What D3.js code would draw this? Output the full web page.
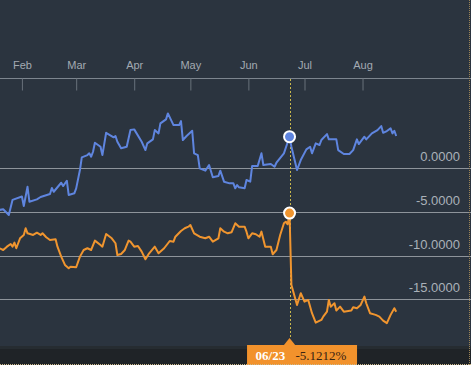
<!DOCTYPE html>
<html>
<head>
<meta charset="utf-8">
<script src="https://cdn.jsdelivr.net/npm/d3@7"></script>
<style>
html,body{margin:0;padding:0;background:#2b343f;overflow:hidden;}
svg{display:block;}
</style>
</head>
<body>
<svg id="chart" width="471" height="365"></svg>
<script>
// ---- data (percent change, 2016) ----
const blueDates = ["01-20","01-22","01-25","01-27","02-01","02-02","02-04","02-05","02-09","02-11","02-16","02-17","02-18","02-22","02-23","02-25","02-26","02-29","03-01","03-03","03-04","03-07","03-08","03-09","03-10","03-11","03-14","03-15","03-17","03-21","03-22","03-23","03-25","03-28","03-30","04-01","04-05","04-07","04-08","04-11","04-12","04-14","04-15","04-18","04-19","04-22","04-25","04-26","04-27","04-29","05-02","05-03","05-05","05-06","05-09","05-11","05-13","05-16","05-17","05-19","05-22","05-24","05-25","05-26","05-27","05-30","05-31","06-02","06-03","06-06","06-08","06-09","06-13","06-15","06-16","06-20","06-23","06-24","06-27","06-29","07-02","07-04","07-05","07-07","07-09","07-10","07-13","07-14","07-18","07-19","07-22","07-25","07-27","07-29","07-30","08-02","08-03","08-06","08-09","08-11","08-12","08-14","08-16","08-17","08-18","08-19"];
const blueValues = [-4.77,-4.69,-5.34,-3.61,-3.23,-4.31,-2.11,-3.82,-3.55,-3.28,-2.94,-2.25,-2.68,-1.65,-2.03,-1.42,-3.05,-2.86,-2.29,-0.19,1.26,1.52,1.72,1.33,1.90,2.93,2.47,1.52,4.07,3.55,3.70,3.04,2.29,2.47,4.38,4.46,3.04,2.09,2.86,3.32,4.38,4.00,5.15,5.61,6.29,4.95,4.95,5.41,3.24,3.70,4.30,1.72,1.52,0.00,-0.27,0.38,-1.03,-0.88,-0.27,-1.53,-1.72,-1.72,-2.29,-1.91,-2.17,-2.29,-1.34,-1.53,0.26,0.26,1.72,0.38,0.49,0.18,0.64,1.72,3.62,2.47,-0.19,0.95,2.17,2.47,1.72,2.86,2.67,3.24,3.92,3.32,3.32,2.09,1.64,1.64,2.09,3.32,2.78,3.62,3.32,4.00,4.38,4.84,4.07,4.27,4.58,4.00,4.30,3.70];

const orangeDates = ["01-20","01-22","01-24","01-26","01-27","01-28","01-29","01-30","01-31","02-02","02-03","02-04","02-07","02-09","02-11","02-12","02-14","02-16","02-19","02-20","02-22","02-24","02-26","02-27","03-01","03-03","03-05","03-07","03-09","03-11","03-14","03-15","03-17","03-20","03-22","03-23","03-25","03-27","03-29","03-30","04-01","04-03","04-05","04-07","04-09","04-12","04-14","04-17","04-20","04-22","04-23","04-26","04-28","04-30","05-01","05-03","05-06","05-09","05-11","05-13","05-16","05-17","05-19","05-21","05-23","05-25","05-27","05-30","05-31","06-01","06-03","06-05","06-07","06-08","06-10","06-13","06-14","06-16","06-18","06-20","06-21","06-22","06-23","06-24","06-27","06-29","07-01","07-03","07-05","07-07","07-10","07-11","07-13","07-14","07-15","07-17","07-18","07-20","07-22","07-26","07-27","07-29","07-31","08-02","08-03","08-05","08-08","08-10","08-12","08-14","08-16","08-18","08-19"];
const orangeValues = [-9.15,-9.35,-8.97,-8.66,-8.97,-8.51,-9.15,-8.58,-8.01,-7.63,-6.86,-7.44,-7.63,-7.37,-7.63,-7.44,-7.89,-8.20,-8.12,-8.97,-10.11,-11.06,-11.44,-11.26,-11.33,-10.11,-9.35,-9.15,-9.35,-8.28,-8.78,-8.97,-7.52,-8.01,-8.58,-9.92,-9.81,-9.35,-8.28,-8.40,-8.97,-8.89,-9.54,-10.41,-9.73,-8.97,-9.73,-9.15,-8.32,-8.40,-7.83,-7.17,-6.86,-6.68,-6.49,-7.44,-7.83,-8.01,-7.83,-8.40,-8.01,-6.86,-7.25,-7.44,-7.32,-6.29,-6.68,-6.68,-7.25,-8.01,-7.44,-7.55,-7.83,-7.25,-8.97,-8.97,-9.84,-9.35,-7.63,-6.29,-6.11,-6.41,-5.1212,-13.35,-15.64,-14.30,-15.26,-15.07,-16.59,-17.67,-17.36,-16.98,-16.41,-15.07,-15.84,-15.45,-16.29,-15.84,-16.41,-16.29,-15.90,-16.02,-15.64,-14.69,-15.45,-16.59,-16.78,-16.98,-17.44,-17.73,-16.78,-16.02,-16.41];

const monthTicks = ["2016-02-01","2016-03-01","2016-04-01","2016-05-01","2016-06-01","2016-07-01","2016-08-01"];
const yTicks = [0, -5, -10, -15];
const focusDate = "06-23";
const focusLabel = "06/23";
const focusValueLabel = "-5.1212%";

// ---- setup ----
const W = 471, H = 365;
const parse = d3.timeParse("%Y-%m-%d");
const pd = s => parse("2016-" + s);
const svg = d3.select("#chart");

const x = d3.scaleTime()
  .domain([new Date(2016,0,20,7), new Date(2016,8,27,23)])
  .range([0, W]);
const y = d3.scaleLinear().domain([10, -20]).range([81, 343]);

svg.append("rect").attr("width", W).attr("height", H).attr("fill", "#2b343f");

// bottom dark band
svg.append("rect").attr("x",0).attr("y",346).attr("width",W).attr("height",H-346).attr("fill","#1f2327");
svg.append("rect").attr("x",0).attr("y",346).attr("width",W).attr("height",3).attr("fill","#262c31");

// grid lines
svg.append("g").selectAll("line").data(yTicks).join("line")
  .attr("x1", 0).attr("x2", W)
  .attr("y1", d => Math.round(y(d)) + 0.5).attr("y2", d => Math.round(y(d)) + 0.5)
  .attr("stroke", "#8e949b").attr("stroke-width", 1);

// right value labels
const yAxis = svg.append("g").attr("transform", "translate(460,0)")
  .call(d3.axisLeft(y).tickValues(yTicks).tickSize(0).tickPadding(0).tickFormat(d => d.toFixed(4)));
yAxis.select(".domain").remove();
yAxis.selectAll("text").attr("dy", -7.5)
  .attr("fill", "#aab1b9").style("font-family", "Liberation Sans, Arial, sans-serif").style("font-size", "13px");

// top month axis
const xAxis = svg.append("g").attr("transform", "translate(0,78.5)")
  .call(d3.axisBottom(x).tickValues(monthTicks.map(parse)).tickSize(12).tickFormat(d3.timeFormat("%b")));
xAxis.select(".domain").attr("d", `M0,0H${W}`).attr("stroke", "#7d858e");
xAxis.selectAll(".tick line").attr("stroke", "#68717b");
xAxis.selectAll("text").attr("y", -10).attr("dy", 0)
  .attr("fill", "#a3aab2").style("font-family", "Liberation Sans, Arial, sans-serif").style("font-size", "11px");

// crosshair
const fx = Math.round(x(pd(focusDate))) + 0.5;
svg.append("line").attr("x1", fx).attr("x2", fx).attr("y1", 79).attr("y2", 338)
  .attr("stroke", "#c9b84c").attr("stroke-width", 1).attr("stroke-dasharray", "2,2");

// lines
const line = d3.line().x(d => x(d[0])).y(d => y(d[1]));
const blue = blueDates.map((d, i) => [pd(d), blueValues[i]]);
const orange = orangeDates.map((d, i) => [pd(d), orangeValues[i]]);
svg.append("path").datum(blue).attr("d", line).attr("fill", "none")
  .attr("stroke", "#5f85df").attr("stroke-width", 2).attr("stroke-linejoin", "round");
svg.append("path").datum(orange).attr("d", line).attr("fill", "none")
  .attr("stroke", "#f0952f").attr("stroke-width", 2).attr("stroke-linejoin", "round");

// focus markers
const bv = blueValues[blueDates.indexOf(focusDate)];
const ov = orangeValues[orangeDates.indexOf(focusDate)];
svg.append("circle").attr("cx", x(pd(focusDate))).attr("cy", y(bv)).attr("r", 5.5)
  .attr("fill", "#5f85df").attr("stroke", "#ffffff").attr("stroke-width", 2);
svg.append("circle").attr("cx", x(pd(focusDate))).attr("cy", y(ov)).attr("r", 5.5)
  .attr("fill", "#f0952f").attr("stroke", "#ffffff").attr("stroke-width", 2);

// tooltip
const tx = x(pd(focusDate));
const tip = svg.append("g");
tip.append("rect").attr("x", tx - 42.5).attr("y", 345).attr("width", 110).attr("height", 20).attr("fill", "#f2922c");
tip.append("path").attr("d", `M${tx-6},345.5L${tx},338L${tx+6},345.5Z`).attr("fill", "#f2922c");
tip.append("text").attr("x", tx - 34).attr("y", 359.5).text(focusLabel)
  .attr("fill", "#ffffff").style("font-family", "Liberation Serif, Times New Roman, serif")
  .style("font-size", "13px").style("font-weight", "bold");
tip.append("text").attr("x", tx + 6).attr("y", 359.5).text(focusValueLabel)
  .attr("fill", "#3b2412").style("font-family", "Liberation Serif, Times New Roman, serif")
  .style("font-size", "13px");

// right edge dotted border
svg.append("line").attr("x1", 469.5).attr("x2", 469.5).attr("y1", 0).attr("y2", H)
  .attr("stroke", "#9c8456").attr("stroke-width", 1).attr("stroke-dasharray", "1,1");
svg.append("line").attr("x1", 0).attr("x2", W).attr("y1", 364.5).attr("y2", 364.5)
  .attr("stroke", "#cdb98d").attr("stroke-width", 1).attr("stroke-dasharray", "1,1");
</script>
</body>
</html>
